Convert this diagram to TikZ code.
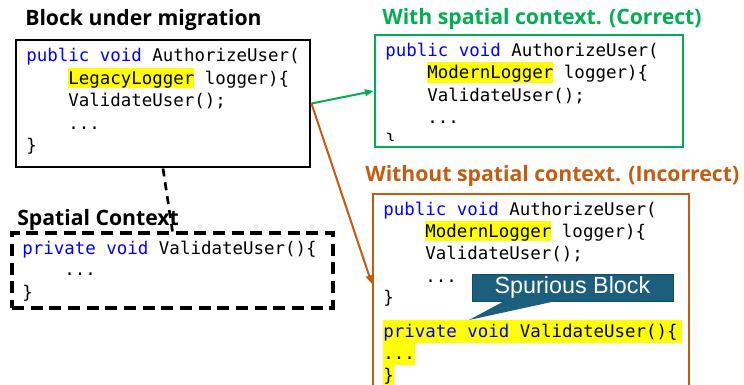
\documentclass[tikz,border=0pt]{standalone}
\usepackage{fontspec}
\usetikzlibrary{arrows.meta,fit,calc}

\newfontfamily\titlefont{Open Sans}
\newfontfamily\codefont{DejaVu Sans Mono}
\newfontfamily\calloutfont{Liberation Sans}

\definecolor{kwblue}{HTML}{0000FF}
\definecolor{okgreen}{HTML}{00B050}
\definecolor{badorange}{HTML}{C55A11}
\definecolor{hlyellow}{HTML}{FFFF00}
\definecolor{calloutfill}{HTML}{1B5E7E}
\definecolor{calloutedge}{HTML}{134A64}

% keyword colouring and highlighter marks
\newcommand\kw[1]{\textcolor{kwblue}{#1}}
\newcommand\hlt[1]{{\setlength\fboxsep{0pt}\colorbox{hlyellow}{\rule[-0.17em]{0pt}{1.14em}#1}}}
\newcommand\hltall[1]{{\setlength\fboxsep{0pt}\colorbox{hlyellow}{\rule[-0.34em]{0pt}{1.29em}#1}}}

\tikzset{
  codeline/.style={anchor=base west, inner sep=0pt, font=\codefont\fontsize{13.1}{16}\selectfont},
  titletext/.style={anchor=base west, inner sep=0pt, font=\titlefont\bfseries\fontsize{15.9}{19}\selectfont},
  codebox/.style={inner sep=0pt, draw, line width=2.2pt},
  flowarrow/.style={line width=1.5pt, -{Triangle[length=6.5pt,width=5pt]}},
  linkdash/.style={line width=2pt, dash pattern=on 6pt off 4.5pt},
  ctxdash/.style={line width=2.3pt, dash pattern=on 9pt off 5pt},
}

\begin{document}
\begin{tikzpicture}[x=0.75pt, y=-0.75pt]
\fill[white] (0,0) rectangle (744,385);
\useasboundingbox (0,0) rectangle (744,385);

% ---- block under migration ----
\node[titletext] (tmig) at (25,26) {Block under migration};
\node[codeline] (m1) at (26,62) {\kw{public void} AuthorizeUser(};
\node[codeline] (m2) at (68,84.5) {\hlt{LegacyLogger} logger)\{};
\node[codeline] (m3) at (68,107) {ValidateUser();};
\node[codeline] (m4) at (68,129.5) {...};
\node[codeline] (m5) at (26,152) {\}};
\node[codebox, fit={(16,40) (310,167)}] (mig) {};

% ---- spatial context ----
\node[titletext] (tctx) at (17,225) {Spatial Context};
\node[codeline] (c1) at (22,254.5) {\kw{private void} ValidateUser()\{};
\node[codeline] (c2) at (64,276) {...};
\node[codeline] (c3) at (22,298.5) {\}};
\node[inner sep=0pt, draw, ctxdash, fit={(12,233) (333,308)}] (ctx) {};

% ---- result with spatial context ----
\node[titletext, text=okgreen] (tok) at (382,25) {With spatial context. (Correct)};
\begin{scope}
  \clip (376,36) rectangle (682,141);
  \node[codeline] (g1) at (385,56.5) {\kw{public void} AuthorizeUser(};
  \node[codeline] (g2) at (427,79) {\hlt{ModernLogger} logger)\{};
  \node[codeline] (g3) at (427,101.5) {ValidateUser();};
  \node[codeline] (g4) at (427,124) {...};
  \node[codeline] (g5) at (385,146.5) {\}};
\end{scope}
\node[codebox, draw=okgreen, line width=2pt, fit={(375,35) (683,147)}] (ok) {};

% ---- result without spatial context ----
\node[titletext, text=badorange] (tbad) at (365,182) {Without spatial context. (Incorrect)};
\begin{scope}
  \clip (374,195) rectangle (688,390);
  \node[codeline] (b1) at (383,215) {\kw{public void} AuthorizeUser(};
  \node[codeline] (b2) at (425,237.5) {\hlt{ModernLogger} logger)\{};
  \node[codeline] (b3) at (425,260) {ValidateUser();};
  \node[codeline] (b4) at (425,282.5) {...};
  \node[codeline] (b5) at (383,304) {\}};
  \node[codeline] (b6) at (383,337) {\hltall{\kw{private void} ValidateUser()\{\hspace{3pt}}};
  \node[codeline] (b7) at (383,359.5) {\hltall{...}};
  \node[codeline] (b8) at (383,382) {\hltall{\}}};
\end{scope}
\node[codebox, draw=badorange, line width=1.7pt, fit={(373,194) (689,392)}] (bad) {};

% ---- callout marking the spurious block ----
\node[fill=calloutfill, draw=calloutedge, line width=0.6pt, minimum width=150.75pt, minimum height=20.25pt,
      inner sep=0pt, text=white, font=\calloutfont\fontsize{17.5}{20}\selectfont] (spur) at (572.5,287.5) {Spurious Block};
\coordinate (spurtip) at (469,320);
\fill[calloutfill] ($(spur.south west)+(33,-0.5)$) -- (spurtip) -- ($(spur.south west)+(85,-0.5)$) -- cycle;

% ---- connectors ----
\draw[linkdash] (mig.south) -- (ctx.north);
\draw[flowarrow, okgreen] (mig.east) -- (ok.west);
\draw[flowarrow, badorange] (mig.east) -- ($(bad.north west)+(0,91)$);
\end{tikzpicture}
\end{document}
